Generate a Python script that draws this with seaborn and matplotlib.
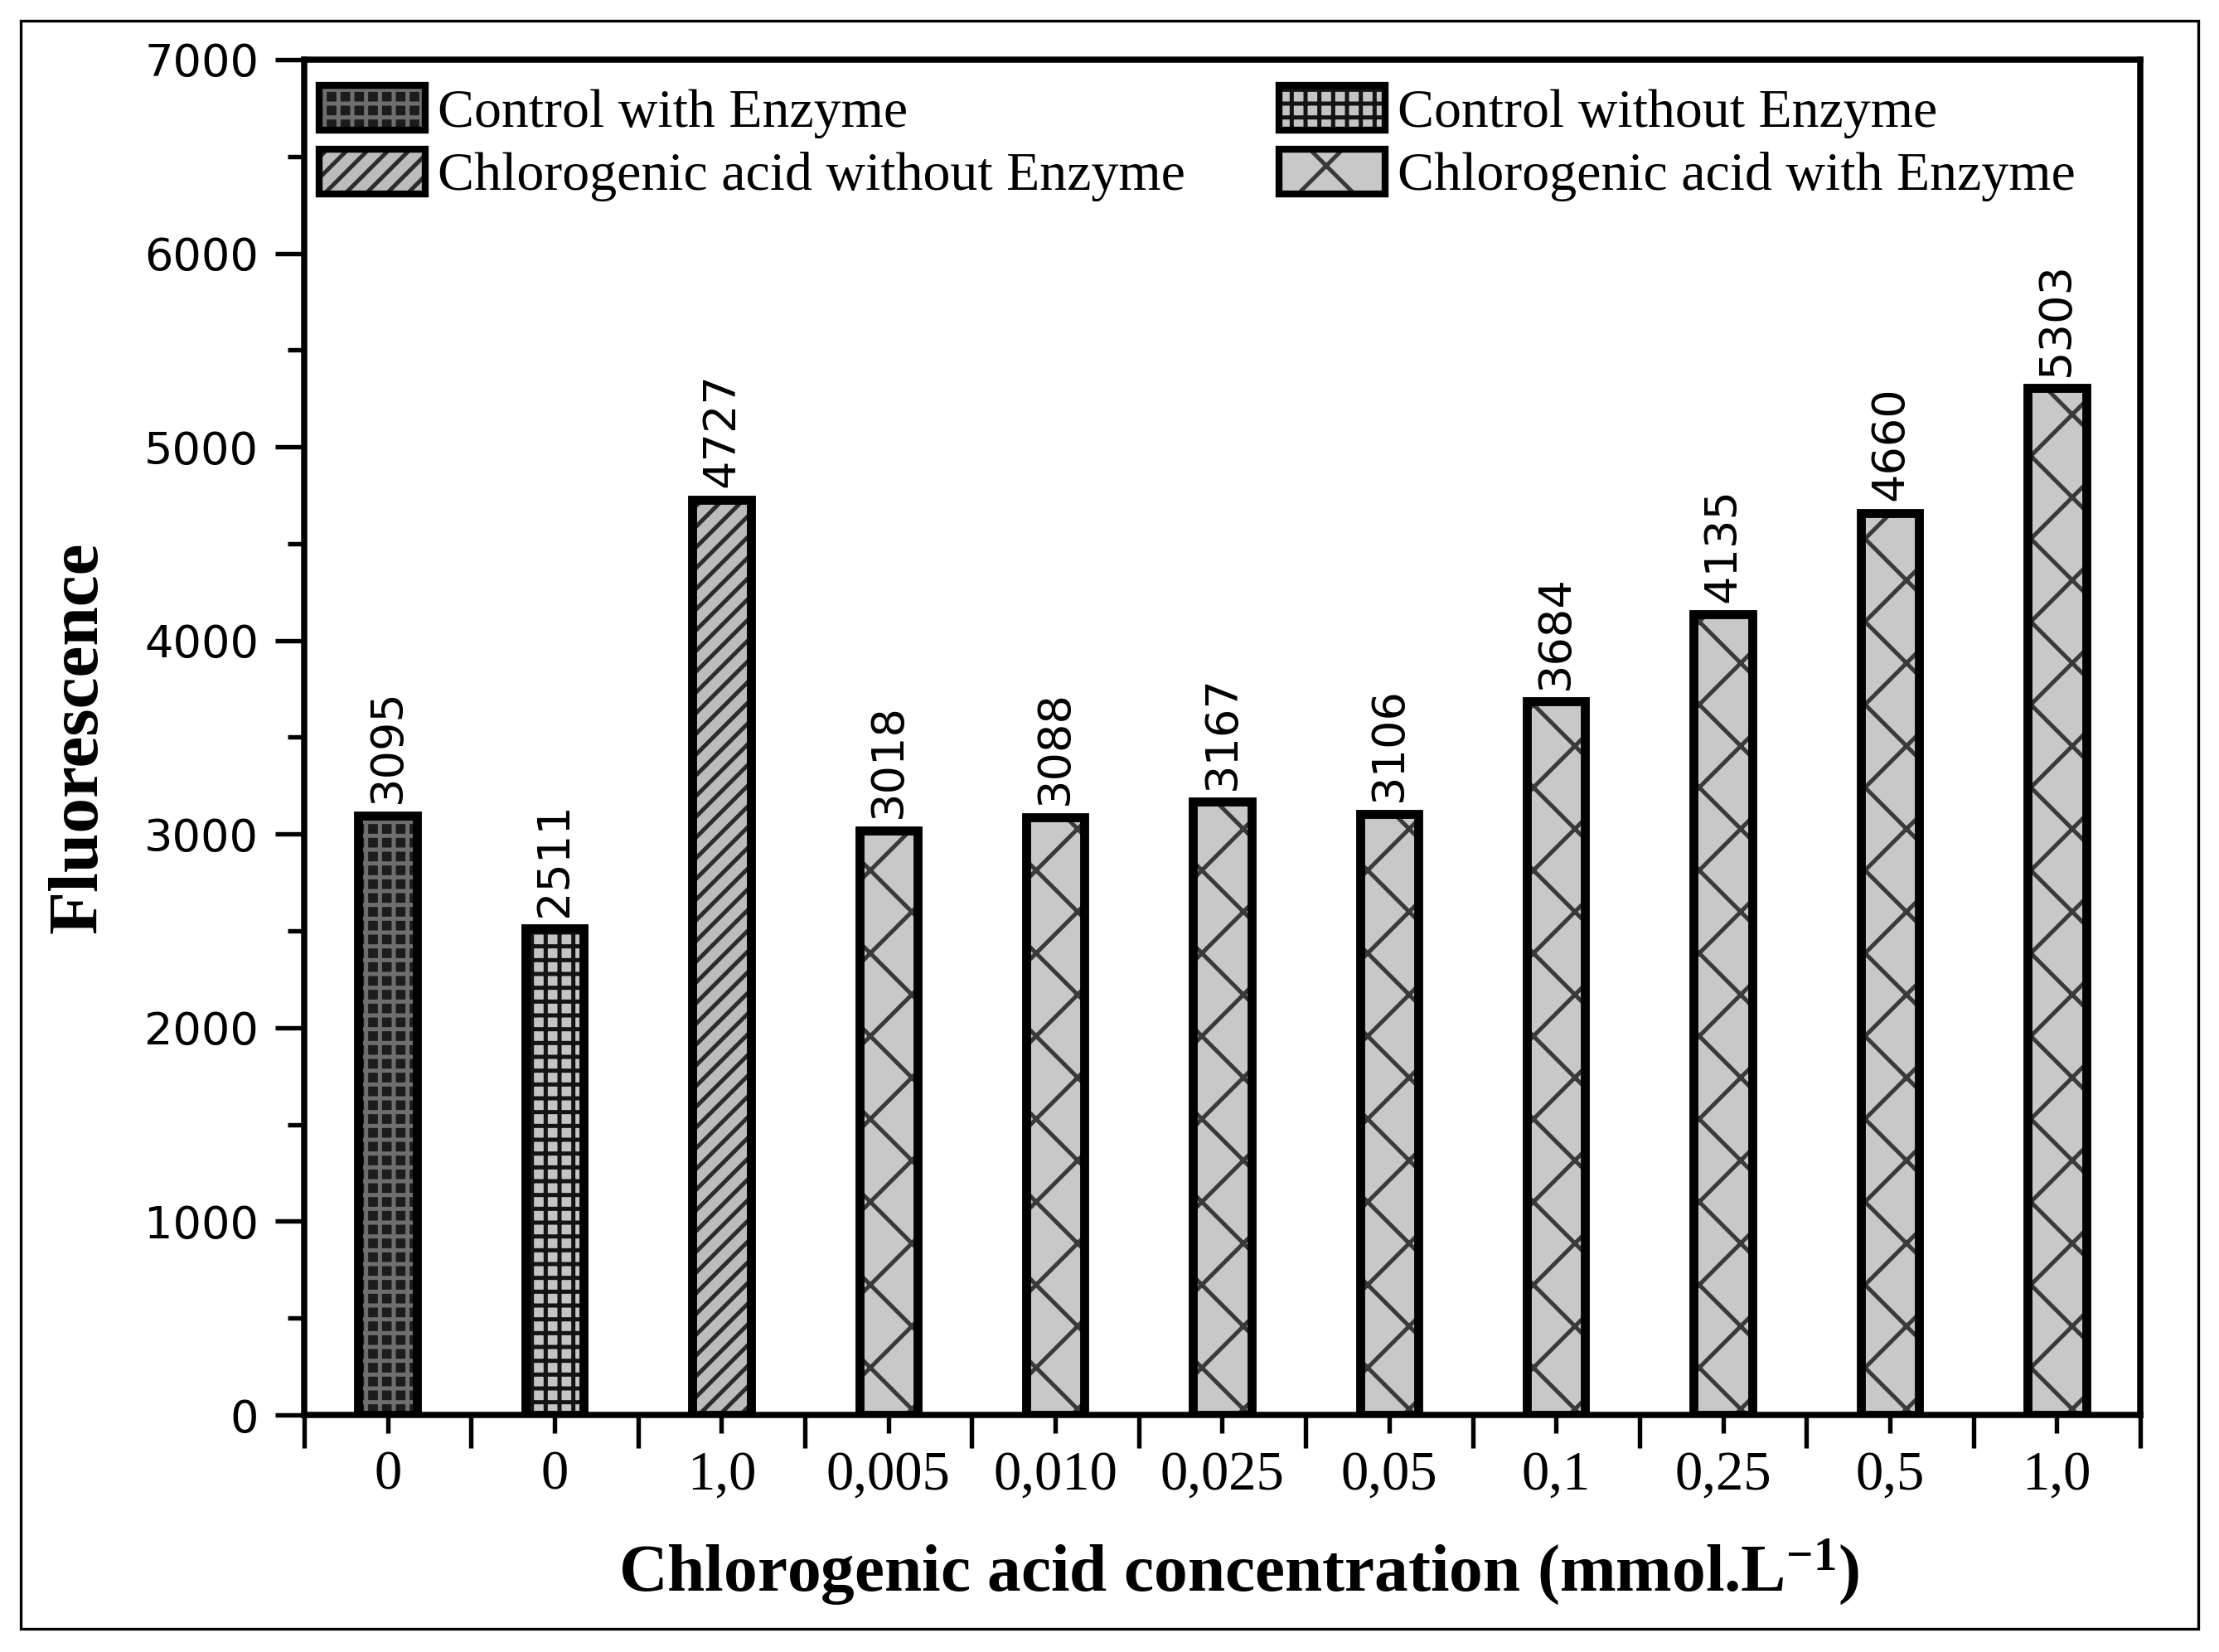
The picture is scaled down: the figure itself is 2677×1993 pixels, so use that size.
import pandas as pd
import matplotlib
matplotlib.use("Agg")
import matplotlib.pyplot as plt
import seaborn as sns
from matplotlib.patches import Patch, Rectangle
from matplotlib.ticker import MultipleLocator, FixedLocator

# ===============================
# Data
# ===============================
tick_labels = ['0', '0', '1,0', '0,005', '0,010', '0,025', '0,05', '0,1', '0,25', '0,5', '1,0']
values = [3095, 2511, 4727, 3018, 3088, 3167, 3106, 3684, 4135, 4660, 5303]
groups = ['Control with Enzyme', 'Control without Enzyme', 'Chlorogenic acid without Enzyme'] + \
         ['Chlorogenic acid with Enzyme'] * 8
group_order = ['Control with Enzyme', 'Control without Enzyme',
               'Chlorogenic acid without Enzyme', 'Chlorogenic acid with Enzyme']

df = pd.DataFrame({'pos': list(range(len(values))), 'value': values, 'group': groups})

# bar styles per group: face colour, hatch colour, hatch pattern
face = {'Control with Enzyme': '#1c1c1c', 'Control without Enzyme': '#c4c4c4',
        'Chlorogenic acid without Enzyme': '#bcbcbc', 'Chlorogenic acid with Enzyme': '#c8c8c8'}
hcol = {'Control with Enzyme': '#6e6e6e', 'Control without Enzyme': '#141414',
        'Chlorogenic acid without Enzyme': '#2c2c2c', 'Chlorogenic acid with Enzyme': '#3a3a3a'}
hatch = {'Control with Enzyme': '+++', 'Control without Enzyme': '+++',
         'Chlorogenic acid without Enzyme': '////', 'Chlorogenic acid with Enzyme': 'x'}

sns.set_theme(style='ticks')
plt.rcParams['font.family'] = ['Liberation Serif', 'DejaVu Serif']
plt.rcParams['mathtext.default'] = 'regular'
plt.rcParams['hatch.linewidth'] = 1.2
for k in ['text.color', 'axes.labelcolor', 'xtick.color', 'ytick.color',
          'xtick.labelcolor', 'ytick.labelcolor', 'axes.edgecolor']:
    plt.rcParams[k] = 'black'

fig = plt.figure(figsize=(2677 / 300, 1993 / 300), dpi=300)
ax = fig.add_axes([0.1371, 0.1435, 0.8274, 0.8204])

# hatched fills
sns.barplot(data=df, x='pos', y='value', hue='group', hue_order=group_order,
            palette=face, dodge=False, width=0.35, linewidth=0, errorbar=None,
            legend=False, ax=ax)
for cont, g in zip(ax.containers, group_order):
    for bar in cont:
        bar.set_edgecolor(hcol[g])
        bar.set_hatch(hatch[g])
        bar.set_linewidth(0)

# black outlines on top
sns.barplot(data=df, x='pos', y='value', fill=False, color='black', width=0.35,
            linewidth=2.6, errorbar=None, ax=ax)
outline = ax.containers[-1]
ax.bar_label(outline, labels=[str(v) for v in values], rotation=90, padding=3.5,
             fontsize=13, family='DejaVu Sans', color='black')

# axes
ax.set_xlim(-0.5, 10.5)
ax.set_ylim(0, 7000)
ax.xaxis.set_major_locator(FixedLocator(range(len(values))))
ax.set_xticklabels(tick_labels)
ax.xaxis.set_minor_locator(FixedLocator([i - 0.5 for i in range(len(values) + 1)]))
ax.yaxis.set_major_locator(MultipleLocator(1000))
ax.yaxis.set_minor_locator(MultipleLocator(500))

for s in ['left', 'right', 'top', 'bottom']:
    ax.spines[s].set_visible(True)
    ax.spines[s].set_linewidth(1.8)
    ax.spines[s].set_color('black')

ax.tick_params(axis='x', which='major', length=5.3, width=1.3, pad=5, labelsize=16, color='black')
ax.tick_params(axis='x', which='minor', length=9.6, width=1.3, color='black')
ax.tick_params(axis='y', which='major', length=8.4, width=1.3, pad=4.8, labelsize=13, color='black')
ax.tick_params(axis='y', which='minor', length=4.8, width=1.3, color='black')
for lab in ax.get_yticklabels():
    lab.set_family('DejaVu Sans')

ax.set_xlabel('Chlorogenic acid concentration (mmol.L$^{-1}$)', fontsize=19.5, fontweight='bold')
ax.set_ylabel('Fluorescence', fontsize=20.5, fontweight='bold')
ax.xaxis.set_label_coords(0.509, -0.0905)
ax.yaxis.set_label_coords(-0.105, 0.5)

# legend
handles = []
for g in group_order:
    fill_p = Patch(facecolor=face[g], edgecolor=hcol[g], hatch=hatch[g], linewidth=0)
    edge_p = Patch(facecolor='none', edgecolor='black', linewidth=2.0)
    handles.append((fill_p, edge_p))
order = [0, 2, 1, 3]
ax.legend([handles[i] for i in order], [group_order[i] for i in order], ncol=2,
          loc='upper left', bbox_to_anchor=(0.008, 0.981), frameon=False, borderpad=0,
          borderaxespad=0, fontsize=15.8, handlelength=1.95, handleheight=0.88,
          handletextpad=0.22, labelspacing=0.2, columnspacing=1.72)

# outer frame around the whole figure
fig.add_artist(Rectangle((25 / 2677, 1 - 1965 / 1993), 2627 / 2677, 1940 / 1993,
                         transform=fig.transFigure, fill=False, edgecolor='black', linewidth=0.8))

fig.savefig('out.png', dpi=300)
